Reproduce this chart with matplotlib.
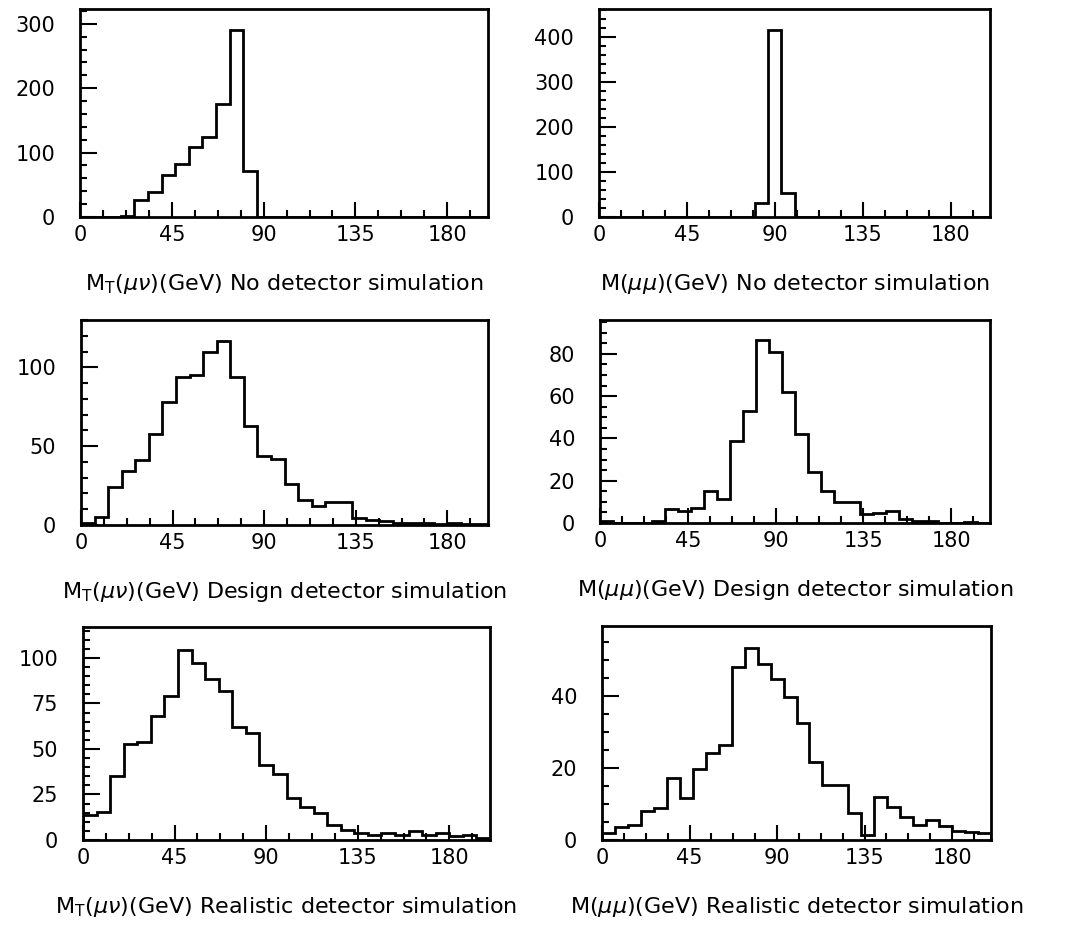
import numpy as np
import matplotlib
matplotlib.use("Agg")
import matplotlib.pyplot as plt
from matplotlib.ticker import MultipleLocator

# 30 bins of 6.67 GeV between 0 and 200 GeV
edges = np.linspace(0, 200, 31)

# transverse mass M_T(mu nu), entries per bin
mt_none = [0, 0, 0, 2, 26, 39, 65, 82, 109, 125, 175, 290, 72, 0, 0,
           0, 0, 0, 0, 0, 0, 0, 0, 0, 0, 0, 0, 0, 0, 0]
mt_design = [1, 5, 24, 34, 41, 58, 78, 94, 95, 110, 117, 94, 63, 44, 42,
             26, 16, 12, 14.5, 14.5, 4.2, 3, 2.5, 1, 1, 1, 0.5, 1, 0.5, 0.5]
mt_real = [14, 15.5, 35, 53, 54, 68, 79, 104.6, 97, 88.5, 82, 62, 59, 41, 36,
           23, 18, 14.6, 8, 5.5, 3.6, 2.7, 4, 3, 5, 3, 4, 2, 3, 1]

# invariant mass M(mu mu), entries per bin
mll_none = [0, 0, 0, 0, 0, 0, 0, 0, 0, 0, 0, 0, 32, 416, 54,
            0, 0, 0, 0, 0, 0, 0, 0, 0, 0, 0, 0, 0, 0, 0]
mll_design = [1, 0, 0, 0, 1, 6.5, 5.5, 7, 15, 11.5, 39, 53, 86.5, 81, 62,
              42, 24, 15, 10, 10, 4.3, 4.7, 5.5, 2, 1, 1, 0, 0, 0.5, 0]
mll_real = [2, 3.6, 4.2, 8, 9, 17.3, 11.7, 19.8, 24.3, 26.4, 48, 53.5, 49, 44.7, 39.7,
            32.5, 21.8, 15.4, 15.4, 7.5, 1.5, 12, 9.3, 6.5, 4.2, 5.6, 4, 2.5, 2.3, 2]

xticks = [0, 45, 90, 135, 180]

labels = [
    r"M$_{\rm T}$($\mu\nu$)(GeV) No detector simulation",
    r"M($\mu\mu$)(GeV) No detector simulation",
    r"M$_{\rm T}$($\mu\nu$)(GeV) Design detector simulation",
    r"M($\mu\mu$)(GeV) Design detector simulation",
    r"M$_{\rm T}$($\mu\nu$)(GeV) Realistic detector simulation",
    r"M($\mu\mu$)(GeV) Realistic detector simulation",
]
series = [mt_none, mll_none, mt_design, mll_design, mt_real, mll_real]
ymaxes = [323, 462, 130, 96, 117, 59.5]
ymajor = [100, 100, 50, 20, 25, 20]
yminor = [20, 20, 10, 5, 5, 5]

# axes boxes in pixels: left, right, top, bottom
boxes = [(80, 488, 9, 217), (599, 990, 9, 217),
         (81, 488, 320, 525), (600, 990, 320, 523),
         (83, 490, 627, 840), (602, 991, 626, 840)]

plt.rcParams["font.family"] = "DejaVu Sans"
plt.rcParams["mathtext.fontset"] = "dejavusans"

W, H = 1066, 934
fig = plt.figure(figsize=(W / 100, H / 100), dpi=100)

for i in range(6):
    l, r, t, b = boxes[i]
    ax = fig.add_axes([l / W, 1 - b / H, (r - l) / W, (b - t) / H])
    ax.stairs(series[i], edges, color="black", linewidth=2)
    ax.set_xlim(0, 200)
    ax.set_ylim(0, ymaxes[i])
    ax.set_xticks(xticks)
    ax.xaxis.set_minor_locator(MultipleLocator(11.25))
    ax.yaxis.set_major_locator(MultipleLocator(ymajor[i]))
    ax.yaxis.set_minor_locator(MultipleLocator(yminor[i]))
    ax.tick_params(which="both", direction="in", top=False, right=False, width=1.5)
    ax.tick_params(axis="x", which="major", length=11, pad=6, labelsize=15)
    ax.tick_params(axis="y", which="major", length=12, pad=18, labelsize=15)
    ax.tick_params(which="minor", length=5)
    for sp in ax.spines.values():
        sp.set_linewidth(2)
    ax.set_xlabel(labels[i], fontsize=16, labelpad=19)

fig.savefig("out.png", dpi=100)
